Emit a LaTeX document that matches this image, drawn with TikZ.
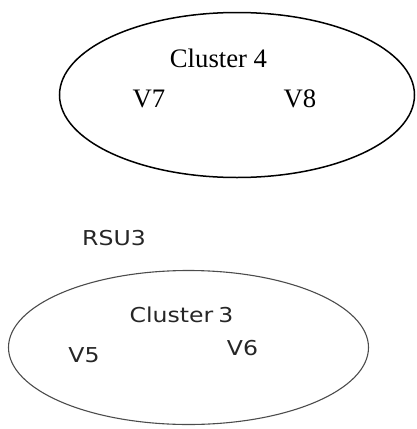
\documentclass[tikz,border=0pt]{standalone}
\usepackage{fontspec}
\setmainfont{Liberation Serif}
\newfontfamily\tahomalike{DejaVu Sans}
\usetikzlibrary{shapes.geometric}
\newcommand{\widetxt}[1]{\scalebox{1.15}[1]{#1}}
\begin{document}
\begin{tikzpicture}[x=1pt,y=-1pt,
  serifl/.style={anchor=base,inner sep=0pt,font=\fontsize{26.7}{30}\selectfont},
  sansl/.style={anchor=base,inner sep=0pt,text=black!85,font=\tahomalike\fontsize{20.5}{24}\selectfont},
  clusterA/.style={draw=black,line width=1.5pt,ellipse,inner sep=0pt,minimum width=355pt,minimum height=165pt},
  clusterB/.style={draw=black!70,line width=1.1pt,ellipse,inner sep=0pt,minimum width=360pt,minimum height=154pt}]
\useasboundingbox (0,0) rectangle (416,429);
\node[clusterA] (c4) at (237,95) {};
\node[serifl] (t4) at (218.5,67) {Cluster 4};
\node[serifl] (v7) at (149,107) {V7};
\node[serifl] (v8) at (300,107) {V8};
\node[sansl] (rsu) at (114,245) {\widetxt{RSU3}};
\node[clusterB] (c3) at (188.5,347.5) {};
\node[sansl] (t3) at (181.5,322) {\widetxt{Cluster\hspace{-2pt} 3}};
\node[sansl] (v5) at (84,362) {\widetxt{V5}};
\node[sansl] (v6) at (242.5,355) {\widetxt{V6}};
\end{tikzpicture}
\end{document}
